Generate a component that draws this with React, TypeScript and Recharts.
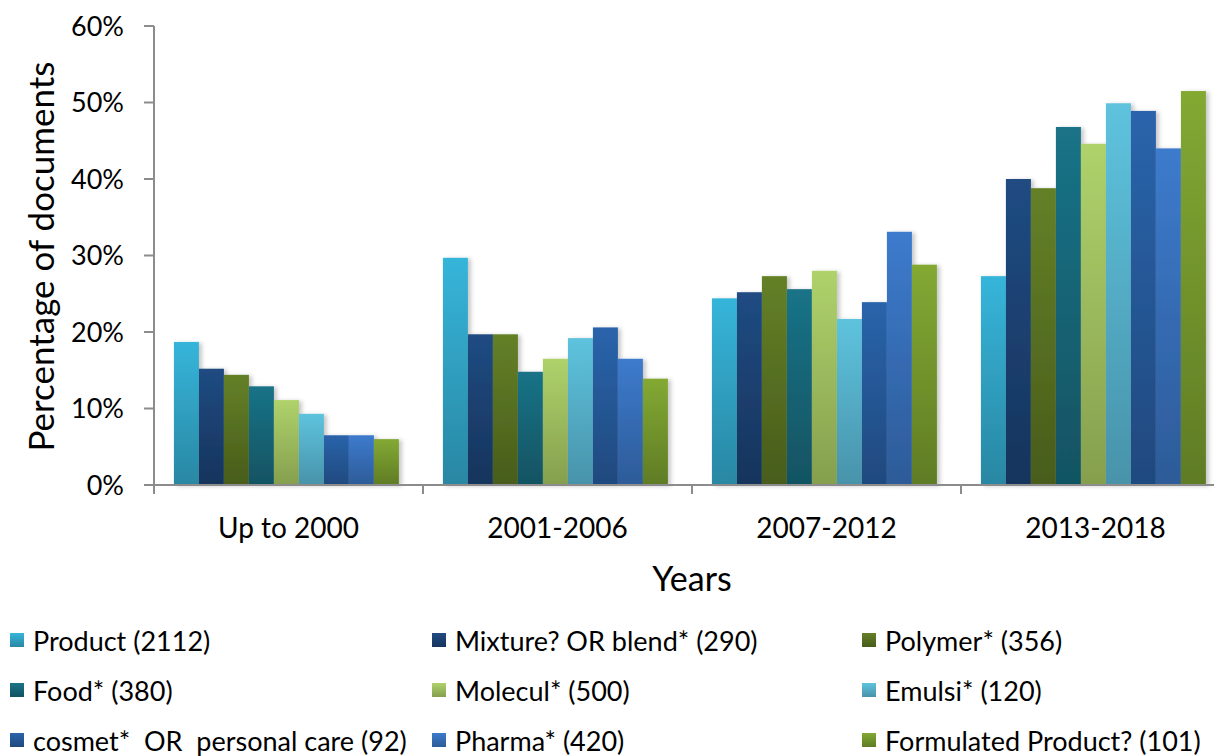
import React from "react";
import { BarChart, Bar, XAxis, YAxis, Legend } from "recharts";

const categories = ["Up to 2000", "2001-2006", "2007-2012", "2013-2018"];

const product = [18.7, 29.7, 24.4, 27.3];
const mixture = [15.2, 19.7, 25.2, 40.0];
const polymer = [14.4, 19.7, 27.3, 38.8];
const food = [12.9, 14.8, 25.6, 46.8];
const molecul = [11.1, 16.5, 28.0, 44.6];
const emulsi = [9.3, 19.2, 21.7, 49.9];
const cosmet = [6.5, 20.6, 23.9, 48.9];
const pharma = [6.5, 16.5, 33.1, 44.0];
const formulated = [6.0, 13.9, 28.8, 51.5];

const yTicks = [0, 10, 20, 30, 40, 50, 60];

const seriesNames = [
  "Product (2112)",
  "Mixture? OR blend* (290)",
  "Polymer* (356)",
  "Food* (380)",
  "Molecul* (500)",
  "Emulsi* (120)",
  "cosmet*  OR  personal care (92)",
  "Pharma* (420)",
  "Formulated Product? (101)",
];

const seriesValues = [product, mixture, polymer, food, molecul, emulsi, cosmet, pharma, formulated];

const gradients: [string, string][] = [
  ["#36B5DA", "#2987A3"],
  ["#204B82", "#16345C"],
  ["#648027", "#485C1B"],
  ["#1A7387", "#115362"],
  ["#AFD26B", "#859F4E"],
  ["#5EC3DE", "#4893AA"],
  ["#2A64AB", "#1F497E"],
  ["#3D7BCD", "#2D5B98"],
  ["#83A933", "#5F7C25"],
];

const data = categories.map((c, i) => {
  const row: Record<string, string | number> = { category: c };
  seriesValues.forEach((arr, s) => {
    row["s" + s] = arr[i];
  });
  return row;
});

const FONT = "Lato, 'Open Sans', sans-serif";
const AXIS_COLOR = "#8c8c8c";

const XTick = (props: any) => {
  const { x, y, payload, width, visibleTicksCount } = props;
  const off =
    payload && typeof payload.offset === "number" && payload.offset > 0
      ? payload.offset
      : width / (2 * (visibleTicksCount || categories.length));
  return (
    <g>
      <line x1={x - off} x2={x - off} y1={y} y2={y + 9} stroke={AXIS_COLOR} strokeWidth={2} />
      <line x1={x + off} x2={x + off} y1={y} y2={y + 9} stroke={AXIS_COLOR} strokeWidth={2} />
      <text
        x={x}
        y={y + 42}
        textAnchor="middle"
        dominantBaseline="central"
        fill="#000"
        fontSize={28}
        fontFamily={FONT}
      >
        {payload.value}
      </text>
    </g>
  );
};

const YLabel = (props: any) => {
  const vb = props.viewBox || { x: 0, y: 0, width: 0, height: 0 };
  const cx = vb.x + 32;
  const cy = vb.y + vb.height / 2 + 1;
  return (
    <text
      x={cx}
      y={cy}
      transform={`rotate(-90 ${cx} ${cy})`}
      textAnchor="middle"
      dominantBaseline="central"
      fill="#000"
      fontSize={35}
      fontFamily={FONT}
    >
      Percentage of documents
    </text>
  );
};

const XLabel = (props: any) => {
  const vb = props.viewBox || { x: 0, y: 0, width: 0, height: 0 };
  const cx = vb.x + vb.width / 2;
  const cy = vb.y + 92;
  return (
    <text x={cx} y={cy} textAnchor="middle" dominantBaseline="central" fill="#000" fontSize={34} fontFamily={FONT}>
      Years
    </text>
  );
};

const BarShape = (props: any) => {
  const { x, y, width, height, fill } = props;
  if (!height || height <= 0) return null;
  return <rect x={x} y={y} width={width} height={height} fill={fill} filter="url(#barShadow)" />;
};

const renderLegend = () => (
  <div
    style={{
      height: 150,
      boxSizing: "border-box",
      paddingTop: 9,
      paddingLeft: 2,
      display: "grid",
      gridTemplateColumns: "422px 430px 1fr",
      gridAutoRows: "50px",
      fontFamily: FONT,
      fontSize: 27,
      color: "#000",
    }}
  >
    {seriesNames.map((name, i) => (
      <div key={name} style={{ display: "flex", alignItems: "center", whiteSpace: "pre" }}>
        <svg width={14} height={14} style={{ marginRight: 9, flex: "none" }}>
          <rect x={0} y={0} width={14} height={14} fill={`url(#grad${i})`} />
        </svg>
        <span>{name}</span>
      </div>
    ))}
  </div>
);

export default function App() {
  return (
    <div style={{ width: 1214, height: 748, overflow: "hidden", position: "relative" }}>
      <BarChart
        width={1230}
        height={748}
        data={data}
        margin={{ top: 18, right: 8, bottom: 0, left: 0 }}
        barCategoryGap="7.4%"
        barGap={0}
        style={{ fontFamily: FONT }}
      >
        <defs>
          {gradients.map(([top, bottom], i) => (
            <linearGradient key={i} id={`grad${i}`} x1="0" y1="0" x2="0" y2="1">
              <stop offset="0%" stopColor={top} />
              <stop offset="100%" stopColor={bottom} />
            </linearGradient>
          ))}
          <filter id="barShadow" x="-30%" y="-10%" width="160%" height="120%">
            <feDropShadow dx={3} dy={1} stdDeviation={2} floodColor="#000" floodOpacity={0.22} />
          </filter>
        </defs>
        <XAxis
          dataKey="category"
          height={121}
          axisLine={{ stroke: AXIS_COLOR, strokeWidth: 2 }}
          tickLine={false}
          tickSize={0}
          tickMargin={0}
          tick={<XTick />}
          interval={0}
          label={<XLabel />}
        />
        <YAxis
          width={146}
          domain={[0, 60]}
          ticks={yTicks}
          interval={0}
          tickFormatter={(v: number) => `${v}%`}
          axisLine={{ stroke: AXIS_COLOR, strokeWidth: 2 }}
          tickLine={{ stroke: AXIS_COLOR, strokeWidth: 2 }}
          tickSize={10}
          tickMargin={20}
          tick={{ fill: "#000", fontSize: 27, fontFamily: FONT }}
          label={<YLabel />}
        />
        <Legend verticalAlign="bottom" align="left" content={renderLegend} />
        {seriesNames.map((name, i) => (
          <Bar
            key={name}
            dataKey={"s" + i}
            name={name}
            fill={`url(#grad${i})`}
            isAnimationActive={false}
            shape={<BarShape />}
          />
        ))}
      </BarChart>
    </div>
  );
}
